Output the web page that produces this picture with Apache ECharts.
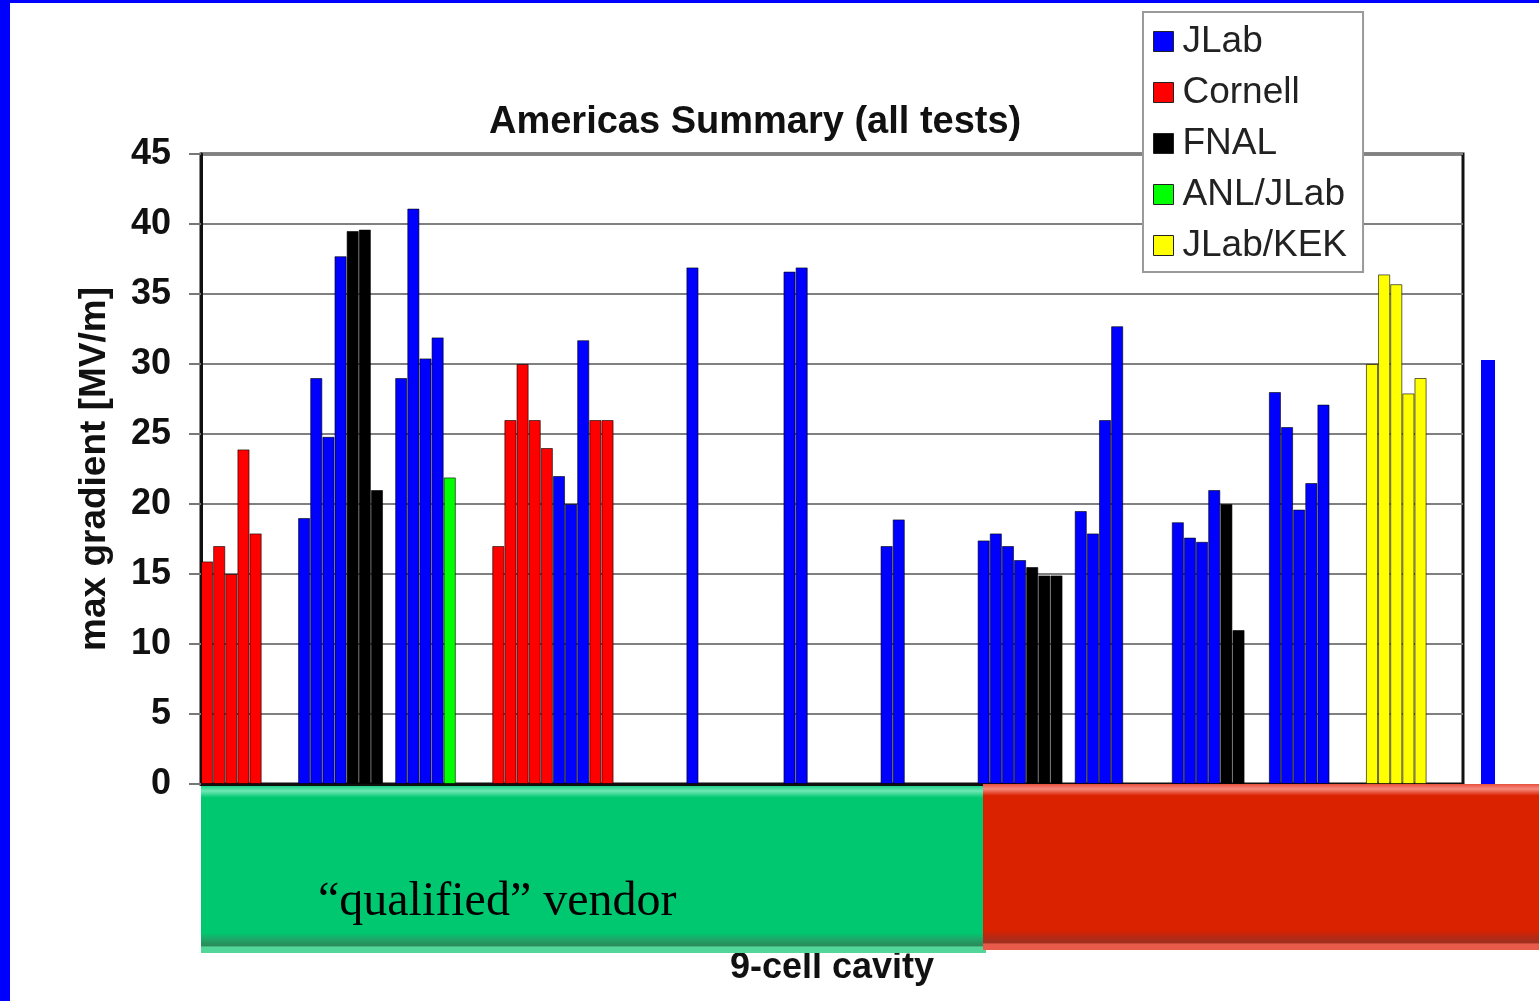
<!DOCTYPE html>
<html>
<head>
<meta charset="utf-8">
<title>Americas Summary (all tests)</title>
<script src="https://cdn.jsdelivr.net/npm/echarts@6/dist/echarts.min.js"></script>
<style>
  html, body { margin: 0; padding: 0; background: #ffffff; }
  #chart { width: 1539px; height: 1001px; }
</style>
</head>
<body>
<div id="chart"></div>
<script>
// Test labs, in legend order
const labNames = ['JLab', 'Cornell', 'FNAL', 'ANL/JLab', 'JLab/KEK'];
const labColors = ['#0000ff', '#ff0000', '#000000', '#00ff00', '#ffff00'];
const labCode = { J: 0, C: 1, F: 2, A: 3, K: 4 };

// Each cavity group holds up to 8 test slots along the x axis
const slotsPerGroup = 8;

// Lab of each test, one string per cavity group (J, C, F, A, K)
const groupLabs = [
  'CCCCC', 'JJJJFFF', 'JJJJA', 'CCCCCJJJ', 'CC', 'J', 'JJ',
  'JJ', 'JJJJFFF', 'JJJJ', 'JJJJFF', 'JJJJJ', 'KKKKK'
];

// Max gradient of each test [MV/m], same order as groupLabs
const groupGradients = [
  [15.9, 17.0, 15.0, 23.9, 17.9],
  [19.0, 29.0, 24.8, 37.7, 39.5, 39.6, 21.0],
  [29.0, 41.1, 30.4, 31.9, 21.9],
  [17.0, 26.0, 30.0, 26.0, 24.0, 22.0, 20.0, 31.7],
  [26.0, 26.0],
  [36.9],
  [36.6, 36.9],
  [17.0, 18.9],
  [17.4, 17.9, 17.0, 16.0, 15.5, 14.9, 14.9],
  [19.5, 17.9, 26.0, 32.7],
  [18.7, 17.6, 17.3, 21.0, 20.0, 11.0],
  [28.0, 25.5, 19.6, 21.5, 27.1],
  [30.0, 36.4, 35.7, 27.9, 29.0]
];

// y axis ticks
const yMin = 0, yMax = 45, yStep = 5;

// Build the slot categories and one data array per lab
const slotCount = groupLabs.length * slotsPerGroup;
const slots = Array.from({ length: slotCount }, (_, i) => String(i + 1));
const labData = labNames.map(() => new Array(slotCount).fill(null));
groupLabs.forEach((codes, g) => {
  codes.split('').forEach((c, k) => {
    labData[labCode[c]][g * slotsPerGroup + k] = groupGradients[g][k];
  });
});

const FONT = 'Liberation Sans, Arial, sans-serif';

const series = labNames.map((name, i) => ({
  name: name,
  type: 'bar',
  data: labData[i],
  barGap: '-100%',
  barCategoryGap: '0%',
  itemStyle: {
    color: labColors[i],
    borderColor: 'rgba(0,0,0,0.6)',
    borderWidth: 1
  },
  emphasis: { disabled: true }
}));

const chart = echarts.init(document.getElementById('chart'), null, { renderer: 'canvas' });

chart.setOption({
  animation: false,
  backgroundColor: '#ffffff',
  title: {
    text: 'Americas Summary (all tests)',
    left: 489,
    top: 104,
    padding: 0,
    textStyle: { fontFamily: FONT, fontSize: 38, fontWeight: 'bold', color: '#111' }
  },
  legend: {
    orient: 'vertical',
    left: 1143,
    top: 12,
    padding: [11, 16, 8, 10],
    backgroundColor: '#ffffff',
    borderColor: '#9a9a9a',
    borderWidth: 2,
    itemWidth: 20,
    itemHeight: 20,
    itemGap: 14,
    icon: 'rect',
    itemStyle: { borderColor: '#222', borderWidth: 1 },
    textStyle: { fontFamily: FONT, fontSize: 37, lineHeight: 35, color: '#222', padding: [0, 0, 0, 4] },
    data: labNames,
    z: 20
  },
  grid: {
    left: 201,
    right: 76,
    top: 154,
    bottom: 217,
    show: true,
    borderColor: '#111',
    borderWidth: 3,
    backgroundColor: 'transparent'
  },
  xAxis: {
    type: 'category',
    data: slots,
    name: '9-cell cavity',
    nameLocation: 'middle',
    nameGap: 166,
    nameTextStyle: { fontFamily: FONT, fontSize: 36, fontWeight: 'bold', color: '#111' },
    axisLine: { show: true, lineStyle: { color: '#111', width: 3 } },
    axisTick: { show: false },
    axisLabel: { show: false },
    splitLine: { show: false }
  },
  yAxis: {
    type: 'value',
    min: yMin,
    max: yMax,
    interval: yStep,
    name: 'max gradient [MV/m]',
    nameLocation: 'middle',
    nameRotate: 90,
    nameGap: 88,
    nameTextStyle: { fontFamily: FONT, fontSize: 37, fontWeight: 'bold', color: '#111' },
    axisLine: { show: true, lineStyle: { color: '#111', width: 3 } },
    axisTick: { show: true, length: 12, lineStyle: { color: '#777', width: 2 } },
    axisLabel: { margin: 30, fontFamily: FONT, fontSize: 36, fontWeight: 'bold', color: '#111' },
    splitLine: { show: true, lineStyle: { color: '#808080', width: 2 } }
  },
  series: series,
  graphic: [
    // slide frame
    { type: 'rect', z: 50, shape: { x: 0, y: 0, width: 10, height: 1001 }, style: { fill: '#0000ff' } },
    { type: 'rect', z: 50, shape: { x: 0, y: 0, width: 1539, height: 3 }, style: { fill: '#0000ff' } },
    { type: 'rect', z: 50, shape: { x: 1481, y: 360, width: 14, height: 425 }, style: { fill: '#0000ff' } },
    // vendor banners below the axis
    {
      type: 'rect', z: 60,
      shape: { x: 201, y: 786, width: 785, height: 167 },
      style: {
        fill: new echarts.graphic.LinearGradient(0, 0, 0, 1, [
          { offset: 0, color: '#1fd28a' },
          { offset: 0.03, color: '#6fe8b5' },
          { offset: 0.07, color: '#00c870' },
          { offset: 0.88, color: '#00c870' },
          { offset: 0.92, color: '#1fa468' },
          { offset: 0.955, color: '#2a8a5a' },
          { offset: 0.965, color: '#52d69a' },
          { offset: 1, color: '#52d69a' }
        ])
      }
    },
    {
      type: 'rect', z: 61,
      shape: { x: 983, y: 784, width: 556, height: 166 },
      style: {
        fill: new echarts.graphic.LinearGradient(0, 0, 0, 1, [
          { offset: 0, color: '#e8503c' },
          { offset: 0.03, color: '#f58a7c' },
          { offset: 0.07, color: '#da2200' },
          { offset: 0.88, color: '#da2200' },
          { offset: 0.92, color: '#b82814' },
          { offset: 0.955, color: '#a0301e' },
          { offset: 0.965, color: '#e85a4a' },
          { offset: 1, color: '#e85a4a' }
        ])
      }
    },
    {
      type: 'text', z: 62,
      x: 318, y: 902,
      style: {
        text: '\u201cqualified\u201d vendor',
        font: '48px "Liberation Serif", "Times New Roman", serif',
        fill: '#000',
        verticalAlign: 'middle'
      }
    }
  ]
});
</script>
</body>
</html>
